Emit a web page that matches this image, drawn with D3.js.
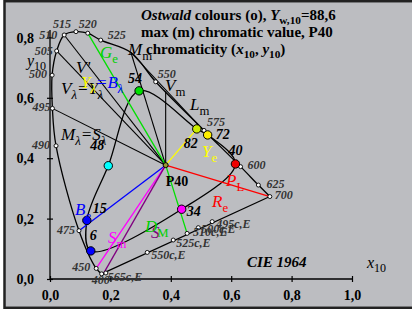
<!DOCTYPE html>
<html>
<head>
<meta charset="utf-8">
<script src="https://cdn.jsdelivr.net/npm/d3@7"></script>
<style>
  body { margin: 0; background: #fff; }
  svg { display: block; }
  text { font-family: "Liberation Serif", "Times New Roman", serif; }
</style>
</head>
<body>
<svg id="chart" width="412" height="309"></svg>
<script>
// spectral locus, CIE 1964 (x10, y10)
const locusNm = [400, 450, 475, 490, 495, 500, 505, 510, 515, 520, 525, 535, 550, 575, 600, 625, 700];
const locusX = [0.171, 0.153, 0.096, 0.020, 0.008, 0.007, 0.022, 0.047, 0.086, 0.125, 0.168, 0.268, 0.350, 0.510, 0.631, 0.690, 0.728];
const locusY = [0.017, 0.035, 0.160, 0.441, 0.565, 0.675, 0.755, 0.808, 0.819, 0.814, 0.791, 0.750, 0.653, 0.492, 0.372, 0.311, 0.273];
const markedNm = [400, 450, 475, 490, 495, 500, 505, 510, 515, 520, 525, 550, 575, 600, 625, 700];

// complementary wavelengths on the purple line
const complNames = ["565c,E", "550c,E", "525c,E", "510c,E", "500c,E", "495c,E"];
const complX = [0.185, 0.322, 0.408, 0.454, 0.491, 0.537];
const complY = [0.020, 0.088, 0.129, 0.151, 0.170, 0.190];

// Ostwald max chromatic colours
const maxNames = ["6", "34", "40", "72", "82", "54", "48", "15"];
const maxX = [0.135, 0.436, 0.614, 0.522, 0.486, 0.295, 0.193, 0.122];
const maxY = [0.093, 0.231, 0.381, 0.477, 0.497, 0.623, 0.375, 0.194];

// achromatic point P40
const whiteX = 0.383, whiteY = 0.377;
const purpleEnd = [0.177, 0.018];
const greenTopNm = 520, greenBottom = "510c,E";
const vmTop = [0.383, 0.622];

const xTicks = [0, 0.2, 0.4, 0.6, 0.8, 1.0];
const yTicks = [0, 0.2, 0.4, 0.6, 0.8];

// ---- layout / styles ----
const W = 412, H = 309;
const svg = d3.select("#chart");
const x = d3.scaleLinear().domain([0, 1]).range([50, 352]);
const y = d3.scaleLinear().domain([0, 1]).range([279, -23]);
const comma = d => d3.format(".1f")(d).replace(".", ",");

const maxFill = { "6": "#0000ff", "15": "#0000ff", "48": "#00ffff", "54": "#00e000",
  "82": "#ccee00", "72": "#ffee00", "40": "#ee0000", "34": "#ff00ff" };
// label offsets [dx, dy, anchor]
const nmOff = { 400: [-10, 10, "start"], 450: [-6, 3, "end"], 475: [-4, 3, "end"], 490: [-6, 3, "end"],
  495: [-2, 3, "end"], 500: [-5, 3, "end"], 505: [-4, 4, "end"], 510: [-7, 4, "end"],
  515: [-5, -4, "end"], 520: [-9, -5, "start"], 525: [7, -1, "start"], 550: [2, -4, "start"],
  575: [3, -4, "start"], 600: [7, 2, "start"], 625: [8, 3, "start"], 700: [5, 2, "start"] };
const complOff = { "565c,E": [2, 8], "550c,E": [4, 7], "525c,E": [3, 7], "510c,E": [6, 3],
  "500c,E": [3, 5], "495c,E": [4, 6] };
const maxOff = { "6": [-1, -11], "34": [5, 7], "40": [-7, -9], "72": [8, 4], "82": [-13, 19],
  "54": [-11, -8], "48": [-18, -16], "15": [6, -7] };

// frame
svg.append("rect").attr("x", 4.5).attr("y", 1.2).attr("width", W + 10).attr("height", 306.6)
  .attr("fill", "#bcbdc1").attr("stroke", "#222").attr("stroke-width", 2.5);

// rich text helper: parts = {t, sub, fill, it}
function rich(px, py, parts, size, base) {
  const t = svg.append("text").attr("x", px).attr("y", py).attr("font-size", size);
  Object.entries(base || {}).forEach(([k, v]) => t.attr(k, v));
  let shifted = false;
  parts.forEach(p => {
    const s = t.append("tspan").text(p.t);
    if (p.sub && !shifted) { s.attr("dy", size * 0.28).attr("font-size", size * 0.75); shifted = true; }
    else if (p.sub) s.attr("font-size", size * 0.75);
    else if (shifted) { s.attr("dy", -size * 0.28); shifted = false; }
    if (p.fill) s.attr("fill", p.fill);
    if (p.it !== undefined) s.attr("font-style", p.it ? "italic" : "normal");
  });
  return t;
}

// axes
const xAxis = svg.append("g").attr("transform", "translate(0,276)")
  .call(d3.axisBottom(x).tickValues(xTicks).tickSize(6).tickFormat(comma));
xAxis.select(".domain").remove();
xAxis.selectAll("line").attr("stroke", "#000").attr("stroke-width", 1.2);
xAxis.selectAll("text").attr("y", 24).attr("dy", 0).attr("font-size", 14)
  .attr("font-weight", "bold").attr("font-family", "Liberation Serif").attr("fill", "#000");
svg.append("line").attr("x1", x(0)).attr("x2", x(1)).attr("y1", y(0)).attr("y2", y(0))
  .attr("stroke", "#000").attr("stroke-width", 1.3);

const yAxis = svg.append("g").attr("transform", "translate(53,0)")
  .call(d3.axisLeft(y).tickValues(yTicks).tickSize(6).tickFormat(comma));
yAxis.select(".domain").remove();
yAxis.selectAll("line").attr("stroke", "#000").attr("stroke-width", 1.2);
yAxis.selectAll("text").attr("x", -19).attr("dy", "0.33em").attr("font-size", 14)
  .attr("font-weight", "bold").attr("font-family", "Liberation Serif").attr("fill", "#000");
svg.append("line").attr("x1", x(0)).attr("x2", x(0)).attr("y1", y(0)).attr("y2", 30)
  .attr("stroke", "#000").attr("stroke-width", 1.3);

const pt = i => [x(locusX[i]), y(locusY[i])];
const nmPt = nm => pt(locusNm.indexOf(nm));
const P = [x(whiteX), y(whiteY)];
const complPt = n => { const i = complNames.indexOf(n); return [x(complX[i]), y(complY[i])]; };
const maxPt = n => { const i = maxNames.indexOf(n); return [x(maxX[i]), y(maxY[i])]; };

function seg(a, b, col, w) {
  svg.append("line").attr("x1", a[0]).attr("y1", a[1]).attr("x2", b[0]).attr("y2", b[1])
    .attr("stroke", col).attr("stroke-width", w || 1.1);
}

// black construction lines from P40
[nmPt(495), nmPt(505), nmPt(510), nmPt(535), [x(vmTop[0]), y(vmTop[1])]].forEach(p => seg(P, p, "#000"));
seg(nmPt(535), maxPt("72"), "#000");

// spectral locus + purple line
svg.append("path").datum(locusNm.map((d, i) => pt(i)))
  .attr("d", d3.line().curve(d3.curveCatmullRom.alpha(0.5)))
  .attr("fill", "none").attr("stroke", "#000").attr("stroke-width", 1.3);
seg(nmPt(400), nmPt(700), "#000", 1.2);

// max chromatic colour loop
svg.append("path").datum(maxNames.map((d, i) => [x(maxX[i]), y(maxY[i])]))
  .attr("d", d3.line().curve(d3.curveCatmullRomClosed.alpha(0.5)))
  .attr("fill", "none").attr("stroke", "#000").attr("stroke-width", 1.3);

// coloured hue lines
seg(nmPt(greenTopNm), P, "#00e000", 1.3);
seg(P, complPt(greenBottom), "#00e000", 1.3);
seg(P, nmPt(475), "#0000ff", 1.3);
seg(P, nmPt(450), "#ff00ff", 1.3);
seg(P, [x(purpleEnd[0]), y(purpleEnd[1])], "#800080", 1.3);
seg(P, nmPt(700), "#ff0000", 1.3);
seg(P, maxPt("82"), "#ffff00", 1.3);

// small white markers
svg.append("g").selectAll("circle").data(markedNm).join("circle")
  .attr("cx", d => nmPt(d)[0]).attr("cy", d => nmPt(d)[1]).attr("r", 2)
  .attr("fill", "#fff").attr("stroke", "#000").attr("stroke-width", 0.9);
svg.append("g").selectAll("circle").data(complNames).join("circle")
  .attr("cx", d => complPt(d)[0]).attr("cy", d => complPt(d)[1]).attr("r", 2)
  .attr("fill", "#fff").attr("stroke", "#000").attr("stroke-width", 0.9);

// wavelength labels
svg.append("g").selectAll("text").data(markedNm).join("text")
  .attr("x", d => nmPt(d)[0] + nmOff[d][0]).attr("y", d => nmPt(d)[1] + nmOff[d][1])
  .attr("text-anchor", d => nmOff[d][2]).attr("font-size", 12).attr("font-style", "italic")
  .attr("font-weight", "bold").attr("fill", "#333").text(d => d);
svg.append("g").selectAll("text").data(complNames).join("text")
  .attr("x", d => complPt(d)[0] + complOff[d][0]).attr("y", d => complPt(d)[1] + complOff[d][1])
  .attr("font-size", 12).attr("font-style", "italic").attr("font-weight", "bold")
  .attr("fill", "#333").text(d => d);

// big coloured points
svg.append("g").selectAll("circle").data(maxNames).join("circle")
  .attr("cx", d => maxPt(d)[0]).attr("cy", d => maxPt(d)[1]).attr("r", 4.2)
  .attr("fill", d => maxFill[d]).attr("stroke", "#000").attr("stroke-width", 1);
svg.append("g").selectAll("text").data(maxNames).join("text")
  .attr("x", d => maxPt(d)[0] + maxOff[d][0]).attr("y", d => maxPt(d)[1] + maxOff[d][1])
  .attr("font-size", 14).attr("font-style", "italic").attr("font-weight", "bold").text(d => d);

svg.append("circle").attr("cx", P[0]).attr("cy", P[1]).attr("r", 2.5)
  .attr("fill", "#9a9a30").attr("stroke", "#000").attr("stroke-width", 1);
svg.append("text").attr("x", P[0]).attr("y", P[1] + 21).attr("font-size", 14)
  .attr("font-weight", "bold").text("P40");

// annotations
const A = 17;
const it = { "font-style": "italic" };
rich(100, 58, [{ t: "G" }, { t: "e", sub: 1, it: false }], A, { fill: "#00d000", "font-style": "italic" });
rich(76, 73, [{ t: "V'" }], A, it);
rich(61, 94, [{ t: "V" }, { t: "λ", sub: 1 }, { t: "=Y" }, { t: "λ", sub: 1 }], A, it);
rich(81, 88, [{ t: "Y", fill: "#ffff00" }, { t: "λ", sub: 1, fill: "#ffff00" }, { t: "=B", fill: "#0000ff" }, { t: "λ", sub: 1, fill: "#0000ff" }], A, it);
rich(128, 55, [{ t: "M" }, { t: "m", sub: 1, it: false }], A, it);
rich(165, 91, [{ t: "V" }, { t: "m", sub: 1, it: false }], A, it);
rich(190, 110, [{ t: "L" }, { t: "m", sub: 1, it: false }], A, it);
rich(61, 140, [{ t: "M" }, { t: "λ", sub: 1 }, { t: "=S" }, { t: "λ", sub: 1 }], A, it);
rich(202, 157, [{ t: "Y" }, { t: "e", sub: 1, it: false }], A, { fill: "#ffff00", "font-style": "italic" });
rich(226, 186, [{ t: "P" }, { t: "L", sub: 1, it: false }], A, { fill: "#ff0000", "font-style": "italic" });
rich(212, 207, [{ t: "R" }, { t: "e", sub: 1, it: false }], A, { fill: "#ff0000", "font-style": "italic" });
rich(75, 215, [{ t: "B" }, { t: "e", sub: 1, it: false }], A, { fill: "#0000ff", "font-style": "italic" });
rich(108, 243, [{ t: "S" }, { t: "m", sub: 1, it: false }], A, { fill: "#ff00ff", "font-style": "italic" });
rich(151, 238, [{ t: "S" }], A, { fill: "#800080", "font-style": "italic" });
rich(145, 232, [{ t: "D" }, { t: "M", sub: 1, it: false }], A, { fill: "#00d000", "font-style": "italic" });

// title
rich(141, 20, [{ t: "Ostwald", it: true }, { t: " colours (o), " }, { t: "Y", it: true }, { t: "w,10", sub: 1 }, { t: "=88,6" }], 15, { "font-weight": "bold" });
svg.append("text").attr("x", 141).attr("y", 37).attr("font-size", 15).attr("font-weight", "bold")
  .text("max (m) chromatic value, P40");
rich(146, 54, [{ t: "chromaticity (" }, { t: "x", it: true }, { t: "10", sub: 1 }, { t: ", " }, { t: "y", it: true }, { t: "10", sub: 1 }, { t: ")" }], 15, { "font-weight": "bold" });

// axis titles and note
rich(247, 267, [{ t: "CIE 1964" }], 15, { "font-weight": "bold", "font-style": "italic" });
rich(367, 268, [{ t: "x", it: true }, { t: "10", sub: 1 }], 16, {});
rich(27, 66, [{ t: "y", it: true }, { t: "10", sub: 1 }], 16, {});
</script>
</body>
</html>
